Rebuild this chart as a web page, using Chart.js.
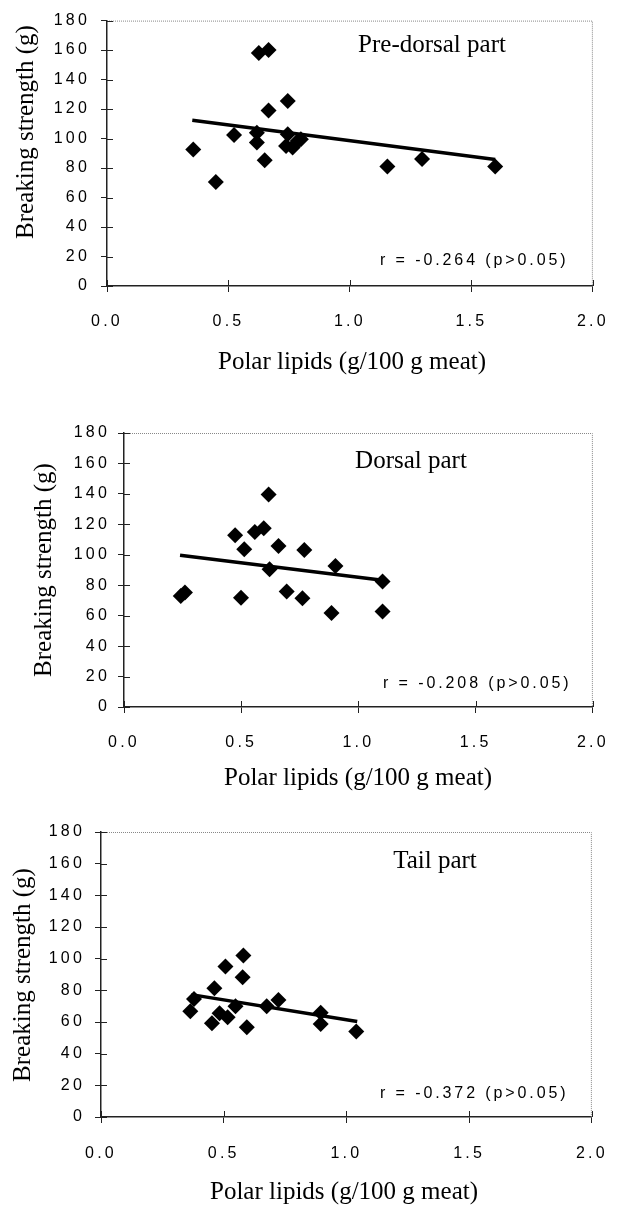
<!DOCTYPE html>
<html>
<head>
<meta charset="utf-8">
<script src="https://cdn.jsdelivr.net/npm/chart.js@4/dist/chart.umd.min.js"></script>
<style>
  html, body { margin: 0; padding: 0; background: #fff; }
  #wrap { position: relative; width: 624px; height: 1205px; }
  canvas { position: absolute; left: 0; }
</style>
</head>
<body>
<div id="wrap">
  <canvas id="c1" width="624" height="395" style="top:0"></canvas>
  <canvas id="c2" width="624" height="400" style="top:395px"></canvas>
  <canvas id="c3" width="624" height="410" style="top:795px"></canvas>
</div>
<script>
// axis ticks
const xTicks = [0, 0.5, 1, 1.5, 2];
const yTicks = [0, 20, 40, 60, 80, 100, 120, 140, 160, 180];

const xTitle = "Polar lipids (g/100 g meat)";
const yTitle = "Breaking strength (g)";

// pre-dorsal part
const preDorsalX = [0.355, 0.448, 0.523, 0.625, 0.665, 0.617, 0.617, 0.649, 0.665, 0.744, 0.744, 0.737, 0.764, 0.785, 0.798, 1.154, 1.297, 1.598];
const preDorsalY = [92.5, 70.5, 102.4, 158, 160, 104, 97.3, 85.3, 119, 125.5, 102.9, 95, 94, 98.4, 99.6, 81, 86.2, 81];
const preDorsalFitX = [0.351, 1.598];
const preDorsalFitY = [112.4, 85.8];

// dorsal part
const dorsalX = [0.242, 0.26, 0.474, 0.513, 0.499, 0.558, 0.596, 0.617, 0.621, 0.659, 0.694, 0.761, 0.769, 0.885, 0.902, 1.103, 1.103];
const dorsalY = [73, 75.3, 112.8, 103.6, 71.7, 115, 117.5, 139.6, 90.5, 105.8, 75.9, 71.5, 103.2, 61.7, 92.7, 82.5, 62.8];
const dorsalFitX = [0.239, 1.103];
const dorsalFitY = [99.7, 83.3];

// tail part
const tailX = [0.364, 0.379, 0.452, 0.462, 0.483, 0.516, 0.507, 0.548, 0.577, 0.58, 0.594, 0.675, 0.723, 0.895, 0.895, 1.04];
const tailY = [66.8, 74.6, 59.2, 81.3, 65.5, 63, 95.1, 69.9, 88.2, 102, 56.7, 69.9, 73.9, 65.8, 58.8, 54];
const tailFitX = [0.368, 1.044];
const tailFitY = [77.3, 60.3];

const panelLabels = ["Pre-dorsal part", "Dorsal part", "Tail part"];
const rLabels = ["r = -0.264 (p>0.05)", "r = -0.208 (p>0.05)", "r = -0.372 (p>0.05)"];

const serif = '"Liberation Serif", "Times New Roman", serif';
const sans = '"Liberation Sans", Arial, sans-serif';

const overlay = {
    id: "overlay",
    beforeDraw(chart) {
        chart.ctx.letterSpacing = "3.2px";
    },
    afterDraw(chart) {
        const { ctx, chartArea: a, scales } = chart;
        const o = chart.options.plugins.overlay;
        ctx.save();
        // light dotted frame on top and right
        ctx.strokeStyle = "#888";
        ctx.lineWidth = 1;
        ctx.setLineDash([1, 1]);
        ctx.beginPath();
        ctx.moveTo(a.left, a.top + 0.5);
        ctx.lineTo(a.right - 0.5, a.top + 0.5);
        ctx.lineTo(a.right - 0.5, a.bottom);
        ctx.stroke();
        ctx.setLineDash([]);
        // tick marks crossing into the plot
        ctx.strokeStyle = "#222";
        ctx.beginPath();
        scales.y.ticks.forEach((t) => {
            const p = Math.round(scales.y.getPixelForValue(t.value)) + 0.5;
            ctx.moveTo(a.left, p);
            ctx.lineTo(a.left + 6, p);
        });
        scales.x.ticks.forEach((t) => {
            const p = Math.round(scales.x.getPixelForValue(t.value)) + 0.5;
            ctx.moveTo(p, a.bottom);
            ctx.lineTo(p, a.bottom - 6);
        });
        ctx.stroke();

        ctx.fillStyle = "#000";
        ctx.letterSpacing = "0px";
        ctx.font = "25px " + serif;
        ctx.textAlign = "center";
        ctx.textBaseline = "alphabetic";
        ctx.fillText(o.label, o.labelX, o.labelY);

        ctx.textBaseline = "middle";
        ctx.fillText(xTitle, o.xTitleX, o.xTitleY);

        ctx.save();
        ctx.translate(o.yTitleX, o.yTitleY);
        ctx.rotate(-Math.PI / 2);
        ctx.fillText(yTitle, 0, 0);
        ctx.restore();

        ctx.letterSpacing = "2.9px";
        ctx.font = "16px " + sans;
        ctx.textAlign = "left";
        ctx.textBaseline = "alphabetic";
        ctx.fillText(o.r, o.rX, o.rY);
        ctx.restore();
    },
};

function makeChart(id, xs, ys, fitX, fitY, L) {
    new Chart(document.getElementById(id), {
        type: "scatter",
        data: {
            datasets: [
                {
                    type: "line",
                    data: fitX.map((v, i) => ({ x: v, y: fitY[i] })),
                    borderColor: "#000",
                    borderWidth: 3.5,
                    pointRadius: 0,
                    showLine: true,
                },
                {
                    data: xs.map((v, i) => ({ x: v, y: ys[i] })),
                    pointStyle: "rectRot",
                    pointRadius: 8,
                    backgroundColor: "#000",
                    borderWidth: 0,
                },
            ],
        },
        options: {
            responsive: false,
            animation: false,
            devicePixelRatio: 1,
            layout: {
                autoPadding: false,
                padding: { top: L.top, right: L.right, left: 0, bottom: 0 },
            },
            plugins: {
                legend: { display: false },
                tooltip: { enabled: false },
                overlay: L,
            },
            scales: {
                x: {
                    type: "linear",
                    min: 0,
                    max: 2,
                    afterBuildTicks: (s) => { s.ticks = xTicks.map((v) => ({ value: v })); },
                    afterFit: (s) => { s.height = L.xH; },
                    ticks: {
                        color: "#000",
                        font: { family: sans, size: 16 },
                        padding: L.xPad,
                        maxRotation: 0,
                        callback: (v) => v.toFixed(1),
                    },
                    grid: { drawOnChartArea: false, drawTicks: true, tickLength: 6, color: "#222" },
                    border: { color: "#222", width: 1.5 },
                },
                y: {
                    min: 0,
                    max: 180,
                    afterBuildTicks: (s) => { s.ticks = yTicks.map((v) => ({ value: v })); },
                    afterFit: (s) => { s.width = L.yW; },
                    ticks: {
                        color: "#000",
                        font: { family: sans, size: 16 },
                        padding: L.yPad,
                    },
                    grid: { drawOnChartArea: false, drawTicks: true, tickLength: 6, color: "#222" },
                    border: { color: "#222", width: 1.5 },
                },
            },
        },
        plugins: [overlay],
    });
}

makeChart("c1", preDorsalX, preDorsalY, preDorsalFitX, preDorsalFitY, {
    top: 16, right: 25, yW: 107, xH: 109, xPad: 20, yPad: 11,
    label: panelLabels[0], labelX: 432, labelY: 52,
    r: rLabels[0], rX: 380, rY: 265,
    xTitleX: 352, xTitleY: 362, yTitleX: 26, yTitleY: 132,
});
makeChart("c2", dorsalX, dorsalY, dorsalFitX, dorsalFitY, {
    top: 38, right: 25, yW: 124, xH: 88, xPad: 20, yPad: 8,
    label: panelLabels[1], labelX: 411, labelY: 73,
    r: rLabels[1], rX: 383, rY: 293,
    xTitleX: 358, xTitleY: 383, yTitleX: 44, yTitleY: 175,
});
makeChart("c3", tailX, tailY, tailFitX, tailFitY, {
    top: 37, right: 30, yW: 101, xH: 88, xPad: 21, yPad: 10,
    label: panelLabels[2], labelX: 435, labelY: 73,
    r: rLabels[2], rX: 380, rY: 303,
    xTitleX: 344, xTitleY: 397, yTitleX: 23, yTitleY: 180,
});
</script>
</body>
</html>
